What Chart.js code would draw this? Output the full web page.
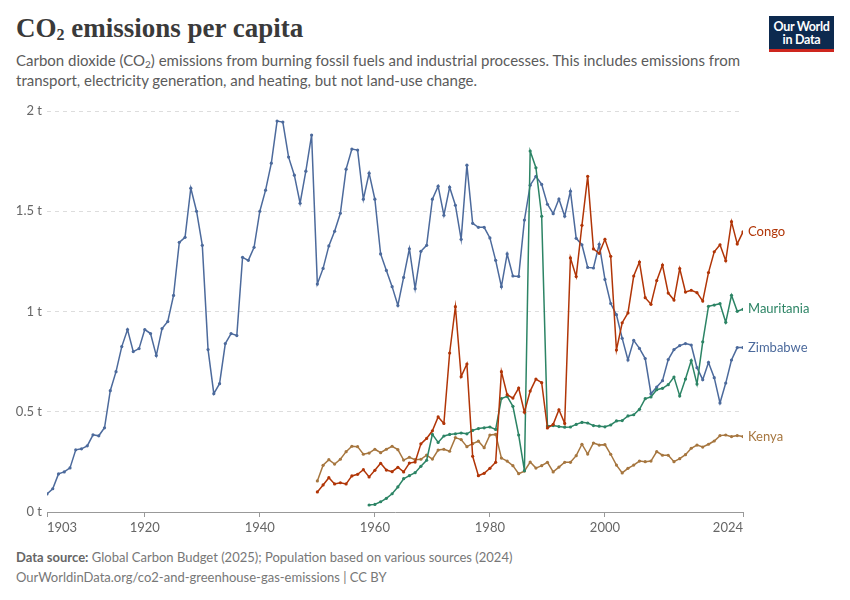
<!DOCTYPE html>
<html>
<head>
<meta charset="utf-8">
<script src="https://cdn.jsdelivr.net/npm/chart.js@4.4.1/dist/chart.umd.min.js"></script>
<style>
  html, body { margin: 0; padding: 0; background: #fff; }
  body { width: 850px; height: 600px; position: relative; overflow: hidden; font-family: Lato, "Noto Sans", sans-serif; }
  #title { position: absolute; left: 16px; top: 13px; margin: 0; font-family: "Liberation Serif", "DejaVu Serif", serif; font-weight: bold; font-size: 27px; color: #3a3a3a; }
  #title sub { font-size: 16px; vertical-align: -3px; line-height: 0; }
  #subtitle { position: absolute; left: 16px; top: 51px; width: 740px; margin: 0; font-size: 15px; line-height: 19.5px; color: #5b5b5b; }
  #subtitle sub { font-size: 10px; vertical-align: -2px; line-height: 0; }
  #logo { position: absolute; left: 769px; top: 16px; width: 65px; height: 32px; padding-top: 1px; background: #0d2a4f; border-bottom: 3px solid #ce261e; color: #fff; font-weight: bold; font-size: 12.5px; line-height: 12.5px; text-align: center; letter-spacing: -0.3px; }
  #logo div { padding-top: 4px; }
  #chartBox { position: absolute; left: 0; top: 96px; width: 850px; height: 445px; }
  #footer { position: absolute; left: 16px; top: 547px; font-size: 13px; line-height: 20px; color: #777; }
  #footer b { color: #666; }
</style>
</head>
<body>
<h1 id="title">CO<sub>2</sub> emissions per capita</h1>
<p id="subtitle">Carbon dioxide (CO<sub>2</sub>) emissions from burning fossil fuels and industrial processes. This includes emissions from transport, electricity generation, and heating, but not land-use change.</p>
<div id="logo"><div>Our World<br>in Data</div></div>
<div id="chartBox"><canvas id="co2Chart"></canvas></div>
<div id="footer">
  <div><b>Data source:</b> Global Carbon Budget (2025); Population based on various sources (2024)</div>
  <div>OurWorldinData.org/co2-and-greenhouse-gas-emissions | CC BY</div>
</div>

<script>
// tick labels
const xTicks = [1903, 1920, 1940, 1960, 1980, 2000, 2024];
const yTicks = [0, 0.5, 1, 1.5, 2];

// series (tonnes per person), one value per year from the start year
const congoStart = 1950;
const congo = [
  0.10, 0.135, 0.171, 0.14, 0.146, 0.14, 0.18, 0.188, 0.211, 0.175,
  0.208, 0.243, 0.209, 0.201, 0.223, 0.20, 0.244, 0.249, 0.34, 0.367,
  0.405, 0.474, 0.442, 0.793, 1.024, 0.675, 0.738, 0.278, 0.181, 0.193,
  0.218, 0.248, 0.70, 0.585, 0.568, 0.618, 0.498, 0.603, 0.663, 0.645,
  0.419, 0.437, 0.51, 0.442, 1.267, 1.174, 1.43, 1.674, 1.312, 1.29,
  1.36, 1.275, 0.808, 0.944, 0.993, 1.177, 1.247, 1.069, 1.036, 1.154,
  1.232, 1.092, 1.057, 1.214, 1.097, 1.106, 1.094, 1.052, 1.194, 1.298,
  1.333, 1.253, 1.448, 1.337, 1.397
];

const mauritaniaStart = 1959;
const mauritania = [
  0.035,
  0.038, 0.051, 0.068, 0.091, 0.125, 0.166, 0.181, 0.196, 0.228, 0.258,
  0.387, 0.347, 0.379, 0.387, 0.39, 0.394, 0.39, 0.407, 0.416, 0.42,
  0.424, 0.412, 0.566, 0.577, 0.527, 0.384, 0.206, 1.80, 1.717, 1.475,
  0.429, 0.431, 0.426, 0.423, 0.424, 0.437, 0.447, 0.444, 0.431, 0.428,
  0.425, 0.434, 0.454, 0.456, 0.479, 0.485, 0.512, 0.565, 0.574, 0.61,
  0.617, 0.635, 0.673, 0.579, 0.663, 0.755, 0.638, 0.849, 1.026, 1.032,
  1.039, 0.946, 1.081, 1.001, 1.011
];

const zimbabweStart = 1903;
const zimbabwe = [
  0.09, 0.116, 0.19, 0.20, 0.22, 0.31, 0.315,
  0.33, 0.385, 0.38, 0.42, 0.605, 0.70, 0.825, 0.91, 0.80, 0.815,
  0.91, 0.89, 0.78, 0.915, 0.95, 1.08, 1.345, 1.37, 1.615, 1.50,
  1.33, 0.81, 0.59, 0.64, 0.84, 0.89, 0.88, 1.27, 1.255, 1.32,
  1.50, 1.605, 1.74, 1.95, 1.945, 1.77, 1.68, 1.54, 1.70, 1.88,
  1.137, 1.215, 1.327, 1.40, 1.49, 1.71, 1.81, 1.805, 1.56, 1.69,
  1.56, 1.287, 1.205, 1.124, 1.03, 1.17, 1.313, 1.114, 1.30, 1.33,
  1.56, 1.625, 1.48, 1.62, 1.53, 1.36, 1.73, 1.44, 1.42, 1.42,
  1.367, 1.255, 1.124, 1.287, 1.177, 1.175, 1.456, 1.63, 1.674, 1.634,
  1.535, 1.488, 1.561, 1.475, 1.60, 1.365, 1.333, 1.22, 1.217, 1.335,
  1.16, 1.04, 0.984, 0.866, 0.758, 0.856, 0.816, 0.765, 0.59, 0.623,
  0.655, 0.76, 0.81, 0.83, 0.84, 0.833, 0.72, 0.66, 0.746, 0.67,
  0.544, 0.643, 0.758, 0.82, 0.82
];

const kenyaStart = 1950;
const kenya = [
  0.155, 0.233, 0.261, 0.239, 0.263, 0.301, 0.328, 0.326, 0.288, 0.294,
  0.313, 0.296, 0.313, 0.328, 0.311, 0.259, 0.273, 0.261, 0.263, 0.284,
  0.264, 0.309, 0.313, 0.303, 0.371, 0.361, 0.326, 0.341, 0.353, 0.321,
  0.384, 0.387, 0.269, 0.254, 0.231, 0.191, 0.204, 0.249, 0.219, 0.231,
  0.248, 0.20, 0.224, 0.248, 0.248, 0.281, 0.338, 0.289, 0.344, 0.334,
  0.336, 0.288, 0.234, 0.195, 0.218, 0.234, 0.254, 0.251, 0.254, 0.301,
  0.283, 0.283, 0.251, 0.266, 0.286, 0.318, 0.334, 0.324, 0.338, 0.354,
  0.381, 0.384, 0.376, 0.381, 0.376
];

const countries = ["Congo", "Mauritania", "Zimbabwe", "Kenya"];
const colors = ["#b13507", "#2c8465", "#4c6a9c", "#a6763f"];

function toPoints(start, values) {
  return values.map((v, i) => ({ x: start + i, y: v }));
}

const seriesList = [
  toPoints(congoStart, congo),
  toPoints(mauritaniaStart, mauritania),
  toPoints(zimbabweStart, zimbabwe),
  toPoints(kenyaStart, kenya)
];

// country names at the end of each line
const endLabels = {
  id: "endLabels",
  afterDatasetsDraw(chart) {
    const ctx = chart.ctx;
    ctx.save();
    ctx.font = "13px Lato";
    ctx.textBaseline = "middle";
    ctx.textAlign = "left";
    chart.data.datasets.forEach((ds, i) => {
      const meta = chart.getDatasetMeta(i);
      const last = meta.data[meta.data.length - 1];
      if (!last) return;
      ctx.fillStyle = ds.borderColor;
      ctx.fillText(ds.label, last.x + 5, last.y);
    });
    ctx.restore();
  }
};

const ctx = document.getElementById("co2Chart").getContext("2d");

new Chart(ctx, {
  type: "line",
  data: {
    datasets: seriesList.map((pts, i) => ({
      label: countries[i],
      data: pts,
      borderColor: colors[i],
      backgroundColor: colors[i],
      borderWidth: 1.5,
      pointRadius: 1.6,
      pointBorderWidth: 0,
      tension: 0,
      fill: false
    }))
  },
  options: {
    responsive: true,
    maintainAspectRatio: false,
    animation: false,
    layout: { padding: { top: 15, right: 107, left: 0, bottom: 0 } },
    plugins: {
      legend: { display: false },
      tooltip: { enabled: false }
    },
    scales: {
      x: {
        type: "linear",
        min: 1903,
        max: 2024,
        afterBuildTicks: scale => { scale.ticks = xTicks.map(v => ({ value: v })); },
        afterFit: scale => { scale.height = 29; },
        grid: { drawOnChartArea: false, drawTicks: true, tickLength: 5, color: "#999" },
        border: { display: true, color: "#999" },
        ticks: {
          align: "inner",
          autoSkip: false,
          maxRotation: 0,
          padding: 3,
          color: "#666",
          font: { family: "Lato", size: 13 },
          callback: v => String(v)
        }
      },
      y: {
        min: 0,
        max: 2,
        afterBuildTicks: scale => { scale.ticks = yTicks.map(v => ({ value: v })); },
        afterFit: scale => { scale.width = 47; },
        grid: { color: "#dddddd", drawTicks: false },
        border: { display: false, dash: [4, 4] },
        ticks: {
          padding: 5,
          color: "#666",
          font: { family: "Lato", size: 13 },
          callback: v => v + " t"
        }
      }
    }
  },
  plugins: [endLabels]
});
</script>
</body>
</html>
